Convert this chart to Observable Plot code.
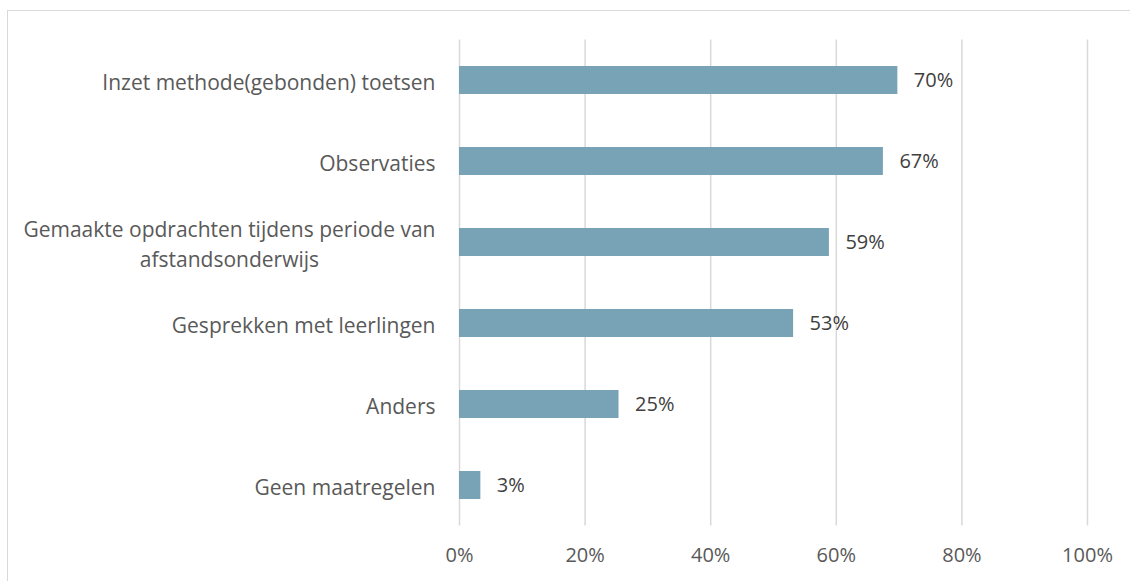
<!DOCTYPE html>
<html>
<head>
<meta charset="utf-8">
<script src="https://cdn.jsdelivr.net/npm/d3@7"></script>
<script src="https://cdn.jsdelivr.net/npm/@observablehq/plot@0.6"></script>
<style>
  html, body { margin: 0; padding: 0; background: #fff; overflow: hidden; }
  #wrap { position: relative; width: 1130px; height: 581px; }
  #frame { position: absolute; left: 7px; top: 10px; width: 1200px; height: 700px; border: 1.5px solid #d9d9d9; box-sizing: border-box; }
  #chart { position: absolute; left: 0; top: 0; }
</style>
</head>
<body>
<div id="wrap"><div id="frame"></div><div id="chart"></div></div>
<script>
const categories = [
  "Inzet methode(gebonden) toetsen",
  "Observaties",
  "Gemaakte opdrachten tijdens periode van\nafstandsonderwijs",
  "Gesprekken met leerlingen",
  "Anders",
  "Geen maatregelen"
];
const values = [0.698, 0.675, 0.589, 0.532, 0.254, 0.034];
const valueLabels = ["70%", "67%", "59%", "53%", "25%", "3%"];
const xTicks = [0, 0.2, 0.4, 0.6, 0.8, 1.0];

const data = categories.map((c, i) => ({cat: c, v: values[i], label: valueLabels[i]}));
const font = "'Open Sans', sans-serif";

const plot = Plot.plot({
  width: 1130,
  height: 581,
  marginLeft: 459,
  marginRight: 43,
  marginTop: 39.5,
  marginBottom: 55.5,
  style: {fontFamily: font, fontSize: "20px", color: "#595959", background: "transparent"},
  x: {domain: [0, 1], ticks: xTicks, tickFormat: d3.format(".0%"), tickSize: 0, tickPadding: 22, label: null},
  y: {domain: categories, paddingInner: 0.655, paddingOuter: 0.3275, axis: null},
  marks: [
    Plot.ruleX(xTicks, {stroke: "#d9d9d9", strokeWidth: 1.5}),
    Plot.barX(data, {x: "v", y: "cat", fill: "#78a2b6"}),
    Plot.text(data, {x: "v", y: "cat", text: "label", textAnchor: "start", dx: 16, fill: "#404040", fontSize: 20}),
    Plot.text(data, {x: 0, y: "cat", text: "cat", textAnchor: "end", dx: -24, fill: "#595959", fontSize: 21, lineHeight: 1.43, className: "ylab"})
  ]
});
document.getElementById("chart").appendChild(plot);

// center continuation lines of wrapped labels on the first line (Excel-style)
d3.select(plot).selectAll("g.ylab text").each(function() {
  const tspans = this.querySelectorAll("tspan");
  if (tspans.length > 1) {
    const w0 = tspans[0].getComputedTextLength();
    const x = +(this.getAttribute("x") || 0);
    for (let k = 1; k < tspans.length; k++) {
      const wk = tspans[k].getComputedTextLength();
      tspans[k].setAttribute("x", x - (w0 - wk) / 2);
    }
  }
});
</script>
</body>
</html>
